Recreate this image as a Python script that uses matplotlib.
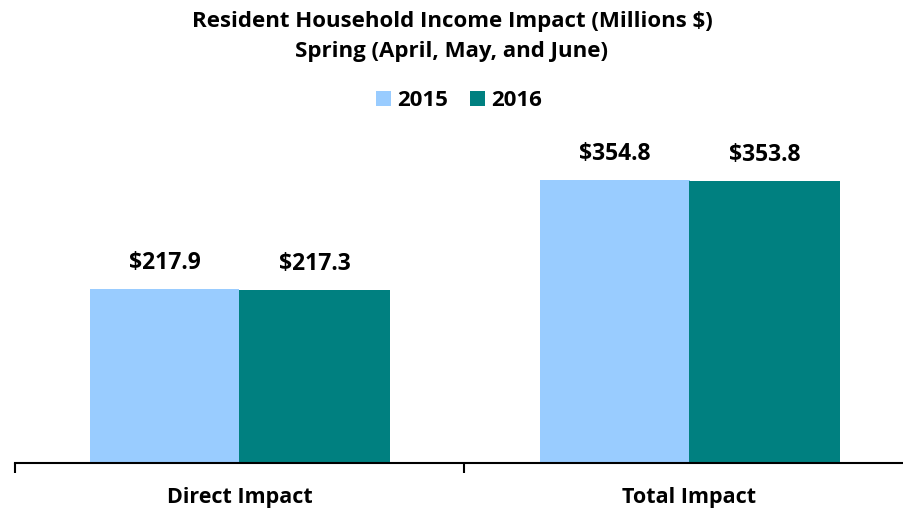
import matplotlib
matplotlib.use("Agg")
import matplotlib.pyplot as plt
import numpy as np

categories = ["Direct Impact", "Total Impact"]
series_names = ["2015", "2016"]
values_2015 = [217.9, 354.8]
values_2016 = [217.3, 353.8]
colors = ["#99CCFF", "#008080"]

plt.rcParams['font.family'] = ['Open Sans', 'DejaVu Sans']

fig = plt.figure(figsize=(9.04, 5.11), dpi=100)
W, H = 904, 511
ymax = 400.0
px_per_unit = 0.798
ax_bottom_px = 463
ax_top_px = ax_bottom_px - ymax * px_per_unit
ax = fig.add_axes([14.5 / W, 1 - ax_bottom_px / H, 900 / W, (ax_bottom_px - ax_top_px) / H])

x = np.arange(len(categories))
bw = 1 / 3
b1 = ax.bar(x - bw / 2, values_2015, bw, color=colors[0], label=series_names[0])
b2 = ax.bar(x + bw / 2, values_2016, bw, color=colors[1], label=series_names[1])

for bars, vals in ((b1, values_2015), (b2, values_2016)):
    for rect, v in zip(bars, vals):
        ax.annotate(f"${v:.1f}", (rect.get_x() + rect.get_width() / 2, rect.get_height()),
                    xytext=(0, 10), textcoords="offset points", ha="center", va="bottom",
                    fontsize=16.5, fontweight="bold", color="#000000")

ax.set_xlim(-0.5, 1.5)
ax.set_ylim(0, ymax)
ax.set_yticks([])
for s in ("left", "right", "top"):
    ax.spines[s].set_visible(False)
ax.spines["bottom"].set_linewidth(1.5)
ax.set_xticks([-0.5, 0.5, 1.5])
ax.set_xticklabels([])
ax.tick_params(axis="x", direction="out", length=7, width=1.5)
for xi, c in zip(x, categories):
    ax.text(xi, -0.108, c, transform=ax.get_xaxis_transform(), ha="center", va="center",
            fontsize=15.5, fontweight="bold")

fig.text(0.5, 1 - 22 / H, "Resident Household Income Impact (Millions $)", ha="center", va="center",
         fontsize=16, fontweight="bold")
fig.text(0.5, 1 - 52 / H, "Spring (April, May, and June)", ha="center", va="center",
         fontsize=16, fontweight="bold")

fig.legend(handles=[b1, b2], labels=series_names, loc="center", bbox_to_anchor=(0.508, 1 - 101 / H),
           ncol=2, frameon=False, prop={"weight": "bold", "size": 16}, handlelength=0.65,
           handleheight=0.65, handletextpad=0.3, columnspacing=1.0)

fig.savefig("out.png", dpi=100)
